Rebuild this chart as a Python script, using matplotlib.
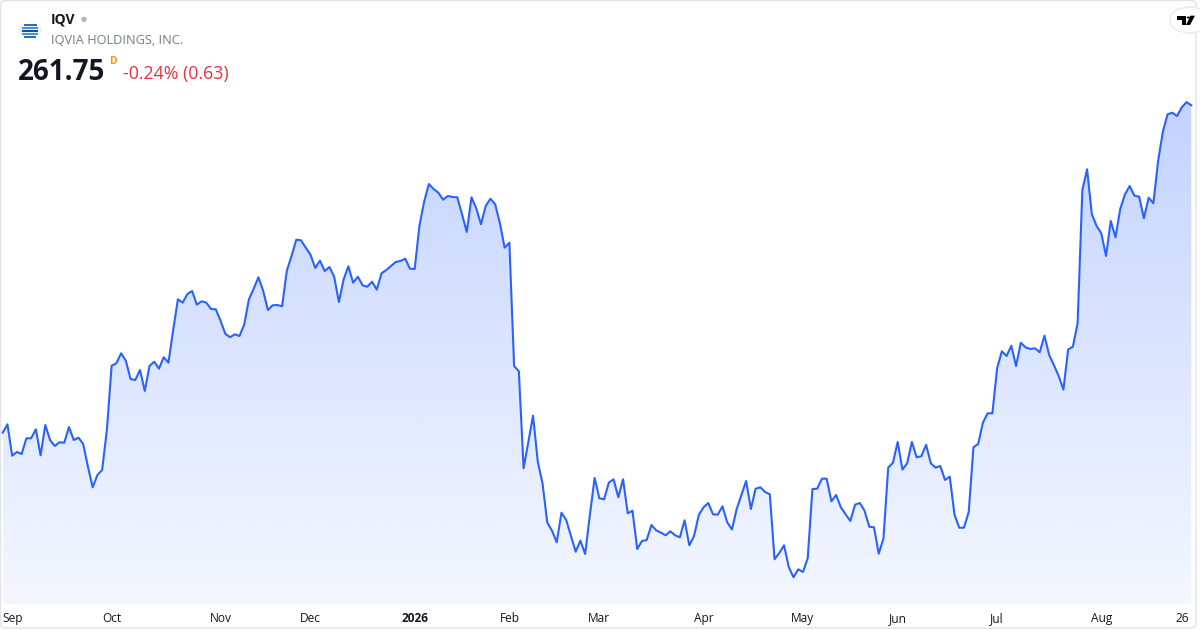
import numpy as np
import pandas as pd
import matplotlib

matplotlib.use("Agg")
import matplotlib.pyplot as plt
from matplotlib.patches import FancyBboxPatch, Circle, Rectangle, Polygon

# IQV daily closes (trading days from 2025-08-28)
start_date = "2025-08-28"
holidays = ["2025-09-01", "2025-11-27", "2025-12-25", "2026-01-01", "2026-01-19",
            "2026-02-16", "2026-04-03", "2026-05-25", "2026-06-19", "2026-07-03"]
prices = [
    196.26, 197.94, 191.66, 192.40, 192.00, 195.14, 195.14, 196.94, 191.74, 197.80,
    194.80, 193.60, 194.34, 194.26, 197.40, 194.80, 195.26, 194.00, 189.46, 185.34,
    187.80, 188.80, 196.80, 209.66, 210.14, 212.14, 210.66, 207.00, 206.80, 208.80,
    204.60, 209.60, 210.46, 209.06, 211.34, 210.26, 216.80, 222.94, 222.26, 224.00,
    224.60, 221.86, 222.54, 222.26, 221.00, 220.94, 218.66, 216.06, 215.34, 215.94,
    215.60, 217.86, 222.94, 225.06, 227.34, 224.66, 220.80, 221.74, 221.80, 221.54,
    228.66, 231.60, 234.86, 234.74, 233.26, 231.86, 229.20, 230.66, 228.60, 229.40,
    227.46, 222.40, 226.94, 229.54, 226.26, 227.46, 225.74, 225.46, 226.46, 224.86,
    228.14, 228.80, 229.60, 230.40, 230.60, 231.06, 229.06, 229.00, 237.60, 242.46,
    246.00, 245.00, 244.26, 242.86, 243.60, 243.40, 243.34, 239.94, 236.40, 243.34,
    241.14, 237.94, 241.60, 243.06, 241.94, 238.14, 233.26, 234.26, 209.60, 208.54,
    189.14, 194.40, 199.66, 190.46, 186.14, 178.30, 176.66, 174.34, 180.26, 178.80,
    175.60, 172.46, 174.66, 172.00, 179.80, 187.20, 183.14, 182.94, 186.26, 186.94,
    183.34, 186.94, 180.14, 180.66, 173.00, 174.60, 174.80, 177.80, 176.74, 176.26,
    175.74, 176.54, 175.74, 175.34, 178.74, 173.74, 175.60, 179.80, 181.34, 182.20,
    179.94, 179.86, 181.54, 178.34, 176.90, 181.00, 183.80, 186.60, 181.00, 185.06,
    185.34, 184.40, 183.94, 170.94, 172.20, 173.74, 169.40, 167.34, 168.94, 168.40,
    171.14, 185.00, 185.06, 187.06, 187.06, 182.54, 183.80, 181.34, 179.94, 178.60,
    181.86, 182.20, 180.66, 177.46, 177.34, 172.06, 175.14, 189.26, 190.26, 194.40,
    188.86, 190.14, 194.40, 191.34, 191.56, 193.84, 190.14, 189.26, 189.60, 186.80,
    187.46, 179.86, 177.26, 177.26, 180.40, 193.34, 194.00, 198.26, 200.14, 200.14,
    209.14, 212.54, 211.60, 213.66, 209.60, 214.26, 213.34, 213.00, 213.14, 212.34,
    215.66, 211.80, 209.74, 207.60, 204.88, 212.90, 213.46, 218.14, 244.80, 248.94,
    240.00, 237.60, 236.14, 231.60, 238.60, 235.34, 241.00, 243.94, 245.60, 243.66,
    243.46, 239.14, 243.26, 242.14, 250.60, 256.46, 259.94, 260.26, 259.60, 261.34,
    262.38, 261.75,
]
ticker = "IQV"
company = "IQVIA HOLDINGS, INC."
last_price = "261.75"
change_text = "-0.24% (0.63)"

line_color = "#2962ff"
text_color = "#131722"
W, H = 1200, 630

bday = pd.offsets.CustomBusinessDay(holidays=holidays)
dates = pd.date_range(start=start_date, periods=len(prices), freq=bday)
x = np.arange(len(prices))
y = np.array(prices)

plt.rcParams["font.family"] = ["Open Sans", "DejaVu Sans"]
fig = plt.figure(figsize=(W / 100, H / 100), dpi=100)
fig.patch.set_facecolor("white")


def fx(px):
    return px / W


def fy(py):
    return 1 - py / H


# price pane
pane_bottom = 604
ax = fig.add_axes([0, fy(pane_bottom), fx(1196), pane_bottom / H])
ax.set_facecolor("none")
ymin, ymax = 162.0, 282.8

ax.plot(x, y, color=line_color, lw=1.5, zorder=3, solid_joinstyle="round")

# gradient under the line, clipped to the area below the series
verts = np.vstack([np.column_stack([x, y]), [[x[-1], ymin], [x[0], ymin]]])
clip = Polygon(verts, closed=True, facecolor="none", edgecolor="none", transform=ax.transData)
ax.add_patch(clip)
alpha = np.linspace(0.05, 0.28, 256).reshape(-1, 1)
rgba = np.zeros((256, 1, 4))
rgba[..., 0] = 41 / 255
rgba[..., 1] = 98 / 255
rgba[..., 2] = 1.0
rgba[..., 3] = alpha
im = ax.imshow(rgba, extent=[x[0], x[-1], ymin, y.max()], origin="lower", aspect="auto", zorder=1)
im.set_clip_path(clip)
ax.set_xlim(-0.57, 252.0)
ax.set_ylim(ymin, ymax)

# month ticks
tick_pos, tick_lab = [], []
for i in range(1, len(dates)):
    if dates[i].month != dates[i - 1].month:
        tick_pos.append(i)
        tick_lab.append("2026" if dates[i].month == 1 else dates[i].strftime("%b"))
    if dates[i] == pd.Timestamp("2026-08-26"):
        tick_pos.append(i)
        tick_lab.append("26")
ax.set_xticks(tick_pos)
ax.set_xticklabels(tick_lab, fontsize=8.6, color=text_color)
for t in ax.get_xticklabels():
    if t.get_text() == "2026":
        t.set_fontweight("bold")
ax.tick_params(axis="x", length=0, pad=6)
ax.set_yticks([])
for s in ax.spines.values():
    s.set_visible(False)

# card border
fig.patches.append(FancyBboxPatch((fx(0.5), fy(628)), fx(1195.5), 627.5 / H,
                                  boxstyle="round,pad=0,rounding_size=0.006",
                                  transform=fig.transFigure, facecolor="none",
                                  edgecolor="#e0e3eb", lw=1.0, zorder=10))

# logo
fig.patches.append(Circle((fx(30), fy(30)), fx(12), transform=fig.transFigure,
                          facecolor="#eef1f7", edgecolor="none", zorder=5))
for py, c, x0, x1 in [(25, "#2d6fb8", 24, 37), (28, "#3a9ad8", 22, 38), (31, "#1d4f91", 22, 38),
                      (34, "#3a9ad8", 22, 38), (37, "#2d6fb8", 24, 36)]:
    fig.patches.append(Rectangle((fx(x0), fy(py + 0.8)), fx(x1 - x0), 1.6 / H,
                                 transform=fig.transFigure, facecolor=c, edgecolor="none", zorder=6))

# header text
fig.text(fx(51), fy(19), ticker, fontsize=10, fontweight="bold", color=text_color, va="center")
fig.text(fx(81), fy(19), "\u25CF", fontsize=5, color="#b2b5be", va="center")
fig.text(fx(51), fy(41), company, fontsize=9.2, color="#787b86", va="center")
fig.text(fx(18), fy(72), last_price, fontsize=20, fontweight="bold", color=text_color, va="center")
fig.text(fx(109), fy(61), "D", fontsize=7.5, fontweight="bold", color="#ff9800", va="center")
fig.text(fx(123), fy(74), change_text, fontsize=12.8, color="#e8323f", va="center")

# TradingView badge
fig.patches.append(FancyBboxPatch((fx(1170), fy(33)), fx(40), 26 / H,
                                  boxstyle="round,pad=0,rounding_size=0.02",
                                  transform=fig.transFigure, facecolor="white",
                                  edgecolor="#e9ebf0", lw=1.0, zorder=11))
fig.patches.append(Rectangle((fx(1177), fy(19.5)), fx(9), 3.8 / H, transform=fig.transFigure,
                             facecolor="black", edgecolor="none", zorder=12))
fig.patches.append(Rectangle((fx(1181.5), fy(25)), fx(4.5), 9 / H, transform=fig.transFigure,
                             facecolor="black", edgecolor="none", zorder=12))
fig.patches.append(Circle((fx(1188.5), fy(17.5)), fx(1.8), transform=fig.transFigure,
                          facecolor="black", edgecolor="none", zorder=12))
fig.patches.append(Polygon([(fx(1190.5), fy(15.7)), (fx(1195), fy(15.7)), (fx(1190), fy(25)),
                            (fx(1186), fy(25))], closed=True, transform=fig.transFigure,
                           facecolor="black", edgecolor="none", zorder=12))

fig.savefig("out.png", dpi=100, facecolor="white")
